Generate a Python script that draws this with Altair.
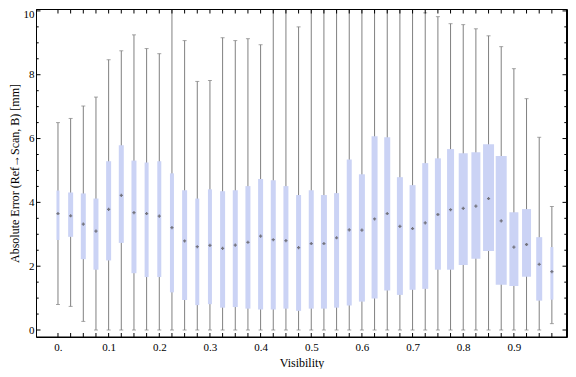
import altair as alt
import pandas as pd

# ---- data ----
visibility = [0.000, 0.025, 0.050, 0.075, 0.100, 0.125, 0.150, 0.175, 0.200, 0.225,
              0.250, 0.275, 0.300, 0.325, 0.350, 0.375, 0.400, 0.425, 0.450, 0.475,
              0.500, 0.525, 0.550, 0.575, 0.600, 0.625, 0.650, 0.675, 0.700, 0.725,
              0.750, 0.775, 0.800, 0.825, 0.850, 0.875, 0.900, 0.925, 0.950, 0.975]
whisker_lo = [0.80, 0.74, 0.27, 0.00, 0.00, 0.00, 0.00, 0.00, 0.00, 0.00,
              0.00, 0.00, 0.00, 0.00, 0.00, 0.00, 0.00, 0.00, 0.00, 0.00,
              0.00, 0.00, 0.00, 0.00, 0.00, 0.00, 0.00, 0.00, 0.00, 0.00,
              0.00, 0.00, 0.00, 0.00, 0.00, 0.00, 0.00, 0.00, 0.00, 0.20]
quartile1 = [2.82, 2.92, 2.22, 1.89, 2.18, 2.73, 1.78, 1.66, 1.66, 1.18,
             0.94, 0.78, 0.81, 0.70, 0.72, 0.67, 0.64, 0.64, 0.67, 0.60,
             0.67, 0.67, 0.70, 0.77, 0.89, 0.99, 1.24, 1.10, 1.26, 1.29,
             1.89, 1.89, 2.04, 2.23, 2.48, 1.42, 1.38, 1.67, 0.92, 0.95]
median = [3.65, 3.58, 3.32, 3.10, 3.78, 4.22, 3.68, 3.65, 3.57, 3.21,
          2.79, 2.61, 2.65, 2.56, 2.66, 2.75, 2.94, 2.83, 2.80, 2.58,
          2.71, 2.71, 2.89, 3.14, 3.13, 3.48, 3.65, 3.25, 3.18, 3.36,
          3.62, 3.77, 3.81, 3.88, 4.12, 3.42, 2.60, 2.68, 2.06, 1.83]
quartile3 = [4.37, 4.31, 4.28, 4.12, 5.29, 5.79, 5.31, 5.25, 5.29, 4.91,
             4.38, 4.12, 4.41, 4.35, 4.38, 4.51, 4.73, 4.69, 4.51, 4.23,
             4.38, 4.23, 4.29, 5.34, 4.88, 6.07, 6.04, 4.79, 4.54, 5.23,
             5.38, 5.67, 5.54, 5.57, 5.82, 5.45, 3.69, 3.79, 2.91, 2.60]
whisker_hi = [6.50, 6.63, 7.02, 7.30, 8.47, 8.75, 9.25, 8.82, 8.66, 10.22,
              9.07, 7.79, 7.82, 9.16, 9.07, 9.13, 8.94, 10.33, 10.33, 9.50,
              10.60, 10.22, 10.33, 10.60, 10.60, 10.33, 10.33, 10.29, 10.22, 9.94,
              9.82, 9.60, 9.57, 9.44, 9.22, 8.88, 8.19, 7.25, 6.04, 3.87]
relative_n = [3, 5, 5, 5, 5, 5, 5, 4, 4, 4,
              5, 4, 4, 5, 5, 5, 5, 5, 5, 5,
              5, 6, 5, 5, 6, 6, 6, 6, 6, 6,
              6, 7, 9, 9, 11, 11, 9, 9, 6, 3]

x_label_values = [0.0, 0.1, 0.2, 0.3, 0.4, 0.5, 0.6, 0.7, 0.8, 0.9]
y_major = [0, 2, 4, 6, 8, 10]
y_minor = [0.5, 1, 1.5, 2.5, 3, 3.5, 4.5, 5, 5.5, 6.5, 7, 7.5, 8.5, 9, 9.5]

df = pd.DataFrame({"x": visibility, "lo": whisker_lo, "q1": quartile1, "med": median,
                   "q3": quartile3, "hi": whisker_hi, "n": relative_n})
df_major = pd.DataFrame({"v": y_major})
df_minor = pd.DataFrame({"v": y_minor})

W, H = 531, 328
FONT = "Liberation Serif"
WHISK = "#808080"
BOX = "#cbd3f5"

xscale = alt.Scale(domain=[-0.0335, 0.995], nice=False, zero=False)
yscale = alt.Scale(domain=[-0.219, 10.06], nice=False, zero=False)

xaxis = alt.Axis(values=x_label_values,
                 labelExpr="datum.value == 0 ? '0.' : format(datum.value, '.1f')",
                 ticks=False, tickSize=0, domain=False, grid=False,
                 labelFont=FONT, labelFontSize=11, labelColor="black", labelPadding=4,
                 title="Visibility", titleFont=FONT, titleFontSize=12,
                 titleFontWeight="normal", titleColor="black", titlePadding=5)
yaxis = alt.Axis(values=y_major, ticks=False, tickSize=0, domain=False, grid=False,
                 labelFont=FONT, labelFontSize=11, labelColor="black", labelPadding=2,
                 labelFlush=4, labelFlushOffset=2,
                 title="Absolute Error (Ref→Scan, B) [mm]", titleFont=FONT,
                 titleFontSize=12, titleFontWeight="normal", titleColor="black",
                 titlePadding=2)


def X(field="x"):
    return alt.X(f"{field}:Q", scale=xscale, axis=xaxis)


def Y(field):
    return alt.Y(f"{field}:Q", scale=yscale, axis=yaxis)


base = alt.Chart(df)

whiskers = base.mark_rule(color=WHISK, strokeWidth=1, clip=True).encode(
    x=X(), y=Y("lo"), y2="hi:Q")
cap_lo = base.mark_tick(orient="horizontal", color=WHISK, size=4, thickness=1,
                        clip=True).encode(x=X(), y=Y("lo"))
cap_hi = base.mark_tick(orient="horizontal", color=WHISK, size=4, thickness=1,
                        clip=True).encode(x=X(), y=Y("hi"))
boxes = base.mark_bar(color=BOX, clip=True).encode(
    x=X(), y=Y("q1"), y2="q3:Q",
    size=alt.Size("n:Q", scale=alt.Scale(domain=[0, 11], range=[0, 11]), legend=None))
medians = base.mark_point(shape="cross", filled=True, size=10, color="#74747e",
                          opacity=1, clip=True).encode(x=X(), y=Y("med"))

top_ticks = base.mark_rule(color="black", strokeWidth=1).encode(
    x=X(), y=alt.value(0.5), y2=alt.value(4.5))
bottom_ticks = base.mark_rule(color="black", strokeWidth=1).encode(
    x=X(), y=alt.value(H), y2=alt.value(H - 4))

left_major = alt.Chart(df_major).mark_rule(color="black", strokeWidth=1).encode(
    y=Y("v"), x=alt.value(0.5), x2=alt.value(4.5))
left_minor = alt.Chart(df_minor).mark_rule(color="black", strokeWidth=1).encode(
    y=Y("v"), x=alt.value(0.5), x2=alt.value(2.7))
right_major = alt.Chart(df_major).mark_rule(color="black", strokeWidth=1).encode(
    y=Y("v"), x=alt.value(W - 0.5), x2=alt.value(W - 4.5))
right_minor = alt.Chart(df_minor).mark_rule(color="black", strokeWidth=1).encode(
    y=Y("v"), x=alt.value(W - 0.5), x2=alt.value(W - 2.7))

# plot frame as an outlined rectangle
frame = alt.Chart(df_major.head(1)).mark_rect(
    fillOpacity=0, stroke="black", strokeWidth=1).encode(
    x=alt.value(0.5), x2=alt.value(W - 0.5), y=alt.value(0.5), y2=alt.value(H))

chart = alt.layer(
    whiskers, cap_lo, cap_hi, boxes, medians,
    top_ticks, bottom_ticks, left_major, left_minor, right_major, right_minor,
    frame
).properties(
    width=W, height=H,
    background="white",
    autosize=alt.AutoSizeParams(type="none"),
    padding={"left": 28, "top": 1, "right": 1, "bottom": 32},
).configure_view(
    stroke="black", strokeWidth=1
)

chart.save("out.html", embed_options={"renderer": "svg", "actions": False})
